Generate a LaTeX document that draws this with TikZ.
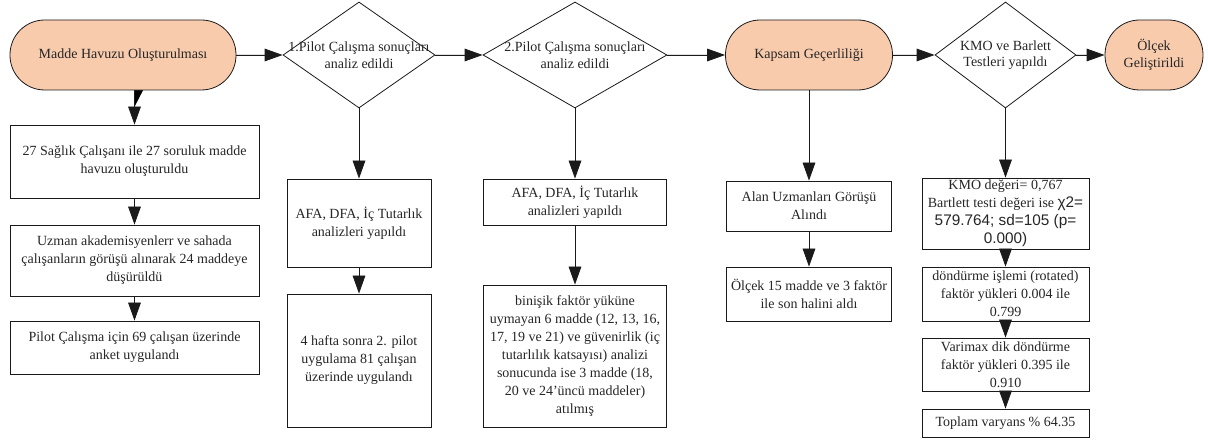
\documentclass[tikz,border=0pt]{standalone}
\usepackage{fontspec}
\setmainfont{Liberation Serif}
\newfontfamily\sansalt{Liberation Sans}
\usepackage{xcolor}
\usepackage{tikz}
\usetikzlibrary{arrows.meta,shapes.geometric}
\definecolor{termpeach}{HTML}{F8CBAD}
\definecolor{inkgray}{HTML}{262626}
\definecolor{linegray}{HTML}{1A1A1A}
\newcommand{\sanspart}[1]{{\sansalt\fontsize{11.5}{13.5}\selectfont #1}}
\tikzset{
  termnode/.style={draw=linegray,line width=0.6pt,rounded corners=26pt,fill=termpeach,minimum height=52.5pt,inner sep=2pt,font=\fontsize{10.5}{12.5}\selectfont,text=inkgray,align=center},
  decnode/.style={diamond,draw=linegray,line width=0.6pt,fill=white,inner sep=0pt,minimum height=79.5pt},
  dectext/.style={font=\fontsize{10.5}{12.5}\selectfont,text=inkgray,align=center},
  stepbox/.style={draw=linegray,line width=0.6pt,fill=white,inner sep=2pt,font=\fontsize{10.5}{13.5}\selectfont,text=inkgray,align=center},
  flowarrow/.style={-{Triangle[length=13.5pt,width=9.5pt]},draw=linegray,fill=black,line width=0.6pt},
}
\begin{document}
\begin{tikzpicture}[x=0.75pt,y=-0.75pt]
    \useasboundingbox (0,0) rectangle (1208,441);
    \node[termnode,minimum width=169.5pt] (t1) at (123,55) {Madde Havuzu Oluşturulması};
    \node[decnode,minimum width=114pt,label={[dectext]center:{1.Pilot Çalışma sonuçları\\analiz edildi}}] (d1) at (359,55) {};
    \node[decnode,minimum width=138pt,label={[dectext]center:{2.Pilot Çalışma sonuçları\\analiz edildi}}] (d2) at (575,55) {};
    \node[termnode,minimum width=125.25pt] (t2) at (809,55) {Kapsam Geçerliliği};
    \node[decnode,minimum width=105.75pt,label={[dectext]center:{KMO ve Barlett\\Testleri yapıldı}}] (d3) at (1005.5,55) {};
    \node[termnode,minimum width=73.5pt] (t3) at (1154,55) {Ölçek\\Geliştirildi};

    \node[stepbox,minimum width=186.75pt,minimum height=54.75pt] (c1a) at (134.5,161.5) {27 Sağlık Çalışanı ile 27 soruluk madde\\havuzu oluşturuldu};
    \node[stepbox,minimum width=186.75pt,minimum height=53.25pt] (c1b) at (134.5,260.5) {Uzman akademisyenlerr ve sahada\\çalışanların görüşü alınarak 24 maddeye\\düşürüldü};
    \node[stepbox,minimum width=186.75pt,minimum height=39.75pt] (c1c) at (134.5,347.5) {Pilot Çalışma için 69 çalışan üzerinde\\anket uygulandı};

    \node[stepbox,minimum width=108pt,minimum height=66pt] (c2a) at (359,223) {AFA, DFA, İç Tutarlık\\analizleri yapıldı};
    \node[stepbox,minimum width=108pt,minimum height=99.75pt] (c2b) at (359,360.5) {4 hafta sonra 2. pilot\\uygulama 81 çalışan\\üzerinde uygulandı};

    \node[stepbox,minimum width=137.25pt,minimum height=34.5pt] (c3a) at (575,202) {AFA, DFA, İç Tutarlık\\analizleri yapıldı};
    \node[stepbox,minimum width=137.25pt,minimum height=106.5pt] (c3b) at (575,356) {binişik faktör yüküne\\uymayan 6 madde (12, 13, 16,\\17, 19 ve 21) ve güvenirlik (iç\\tutarlılık katsayısı) analizi\\sonucunda ise 3 madde (18,\\20 ve 24'üncü maddeler)\\atılmış};

    \node[stepbox,minimum width=123.75pt,minimum height=37.5pt] (c4a) at (809,206) {Alan Uzmanları Görüşü\\Alındı};
    \node[stepbox,minimum width=123.75pt,minimum height=40.5pt] (c4b) at (809,294) {Ölçek 15 madde ve 3 faktör\\ile son halini aldı};

    \node[stepbox,inner ysep=1pt,minimum width=125.25pt,minimum height=53.25pt] (c5a) at (1005.5,213.5) {KMO değeri= 0,767\\Bartlett testi değeri ise \sanspart{χ2=}\\\sanspart{579.764; sd=105 (p=}\\\sanspart{0.000)}};
    \node[stepbox,inner ysep=1pt,minimum width=125.25pt,minimum height=40.5pt] (c5b) at (1005.5,294) {döndürme işlemi (rotated)\\faktör yükleri 0.004 ile\\0.799};
    \node[stepbox,inner ysep=1pt,minimum width=125.25pt,minimum height=39.75pt] (c5c) at (1005.5,364.5) {Varimax dik döndürme\\faktör yükleri 0.395 ile\\0.910};
    \node[stepbox,inner ysep=1pt,minimum width=125.25pt,minimum height=21pt] (c5d) at (1005.5,423) {Toplam varyans \% 64.35};

    \draw[flowarrow] (t1)--(d1); \draw[flowarrow] (d1)--(d2); \draw[flowarrow] (d2)--(t2);
    \draw[flowarrow] (t2)--(d3); \draw[flowarrow] (d3)--(t3);
    \draw[flowarrow] ([xshift=15pt]t1.south) -| (c1a.north);
    \draw[flowarrow] (c1a)--(c1b); \draw[flowarrow] (c1b)--(c1c);
    \draw[flowarrow] (d1.south)--(c2a.north); \draw[flowarrow] (c2a)--(c2b);
    \draw[flowarrow] (d2.south)--(c3a.north); \draw[flowarrow] (c3a)--(c3b);
    \draw[flowarrow] (t2.south)--(c4a.north); \draw[flowarrow] (c4a)--(c4b);
    \draw[flowarrow] (d3.south)--(c5a.north); \draw[flowarrow] (c5a)--(c5b);
    \draw[flowarrow] (c5b)--(c5c); \draw[flowarrow] (c5c)--(c5d);
  \end{tikzpicture}
\end{document}
